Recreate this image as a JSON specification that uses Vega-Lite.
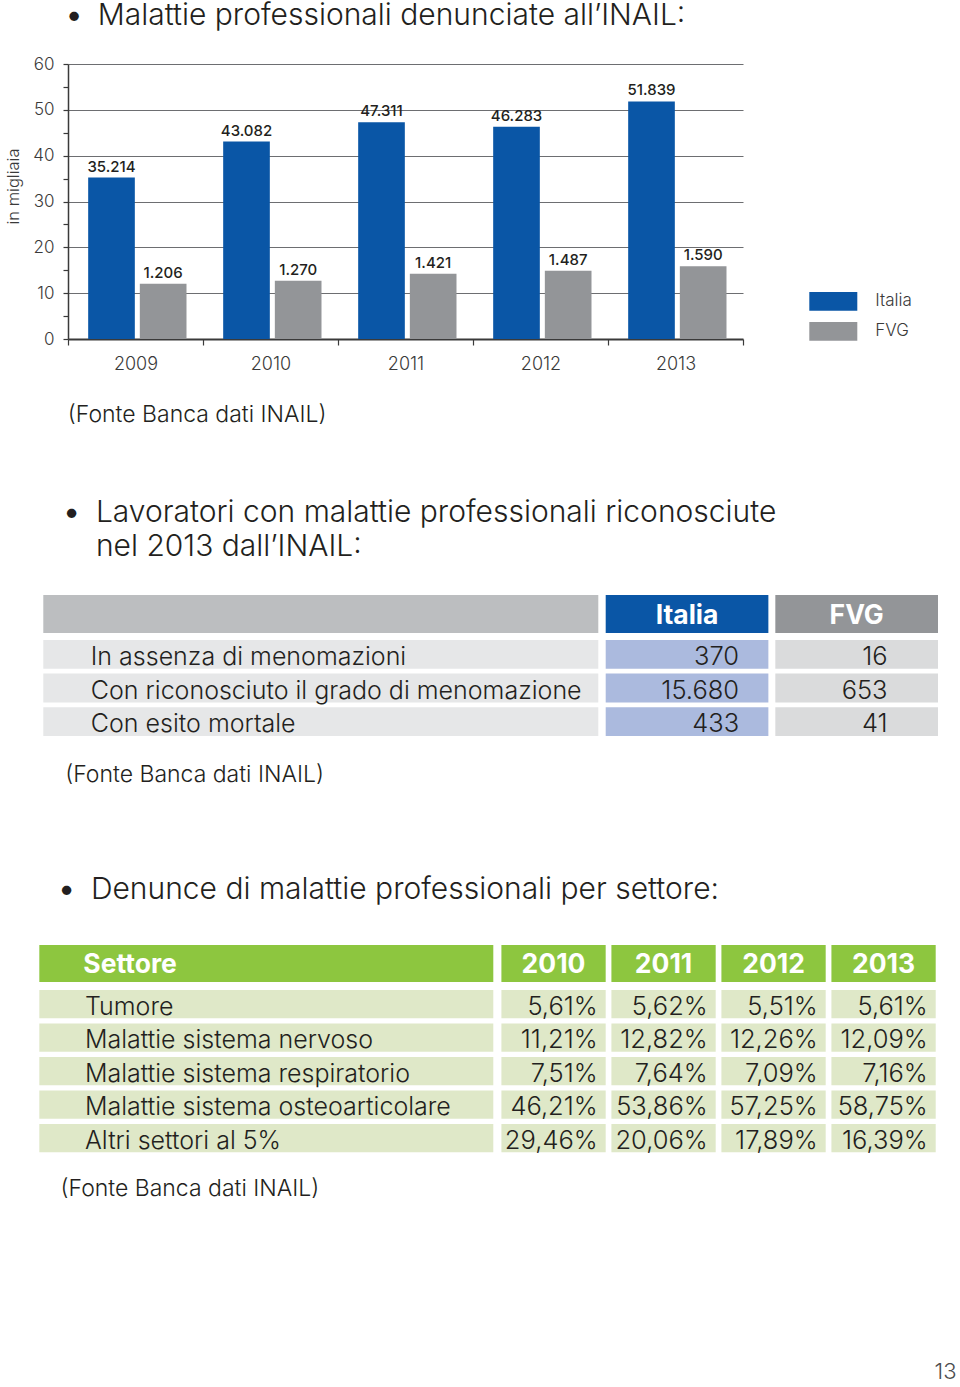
{
  "$schema": "https://vega.github.io/schema/vega-lite/v6.json",
  "padding": 0,
  "background": "#ffffff",
  "spacing": 0,
  "resolve": {"scale": {"color": "independent"}, "legend": {"color": "independent"}},
  "config": {
    "view": {"stroke": null},
    "font": "Inter",
    "text": {"color": "#231f20"}
  },
  "datasets": {
    "barre": [
      {"anno": "2009", "serie": "Italia", "altezza": 35.214, "etichetta": "35.214"},
      {"anno": "2009", "serie": "FVG", "altezza": 12.06, "etichetta": "1.206"},
      {"anno": "2010", "serie": "Italia", "altezza": 43.082, "etichetta": "43.082"},
      {"anno": "2010", "serie": "FVG", "altezza": 12.70, "etichetta": "1.270"},
      {"anno": "2011", "serie": "Italia", "altezza": 47.311, "etichetta": "47.311"},
      {"anno": "2011", "serie": "FVG", "altezza": 14.21, "etichetta": "1.421"},
      {"anno": "2012", "serie": "Italia", "altezza": 46.283, "etichetta": "46.283"},
      {"anno": "2012", "serie": "FVG", "altezza": 14.87, "etichetta": "1.487"},
      {"anno": "2013", "serie": "Italia", "altezza": 51.839, "etichetta": "51.839"},
      {"anno": "2013", "serie": "FVG", "altezza": 15.90, "etichetta": "1.590"}
    ],
    "tab1righe": [
      {"riga": "In assenza di menomazioni", "colonna": "Voce"},
      {"riga": "Con riconosciuto il grado di menomazione", "colonna": "Voce"},
      {"riga": "Con esito mortale", "colonna": "Voce"}
    ],
    "tab1": [
      {"riga": "In assenza di menomazioni", "colonna": "Italia", "valore": "370"},
      {"riga": "In assenza di menomazioni", "colonna": "FVG", "valore": "16"},
      {"riga": "Con riconosciuto il grado di menomazione", "colonna": "Italia", "valore": "15.680"},
      {"riga": "Con riconosciuto il grado di menomazione", "colonna": "FVG", "valore": "653"},
      {"riga": "Con esito mortale", "colonna": "Italia", "valore": "433"},
      {"riga": "Con esito mortale", "colonna": "FVG", "valore": "41"}
    ],
    "tab2righe": [
      {"riga": "Tumore", "colonna": "Settore"},
      {"riga": "Malattie sistema nervoso", "colonna": "Settore"},
      {"riga": "Malattie sistema respiratorio", "colonna": "Settore"},
      {"riga": "Malattie sistema osteoarticolare", "colonna": "Settore"},
      {"riga": "Altri settori al 5%", "colonna": "Settore"}
    ],
    "tab2": [
      {"riga": "Tumore", "colonna": "2010", "valore": "5,61%"},
      {"riga": "Tumore", "colonna": "2011", "valore": "5,62%"},
      {"riga": "Tumore", "colonna": "2012", "valore": "5,51%"},
      {"riga": "Tumore", "colonna": "2013", "valore": "5,61%"},
      {"riga": "Malattie sistema nervoso", "colonna": "2010", "valore": "11,21%"},
      {"riga": "Malattie sistema nervoso", "colonna": "2011", "valore": "12,82%"},
      {"riga": "Malattie sistema nervoso", "colonna": "2012", "valore": "12,26%"},
      {"riga": "Malattie sistema nervoso", "colonna": "2013", "valore": "12,09%"},
      {"riga": "Malattie sistema respiratorio", "colonna": "2010", "valore": "7,51%"},
      {"riga": "Malattie sistema respiratorio", "colonna": "2011", "valore": "7,64%"},
      {"riga": "Malattie sistema respiratorio", "colonna": "2012", "valore": "7,09%"},
      {"riga": "Malattie sistema respiratorio", "colonna": "2013", "valore": "7,16%"},
      {"riga": "Malattie sistema osteoarticolare", "colonna": "2010", "valore": "46,21%"},
      {"riga": "Malattie sistema osteoarticolare", "colonna": "2011", "valore": "53,86%"},
      {"riga": "Malattie sistema osteoarticolare", "colonna": "2012", "valore": "57,25%"},
      {"riga": "Malattie sistema osteoarticolare", "colonna": "2013", "valore": "58,75%"},
      {"riga": "Altri settori al 5%", "colonna": "2010", "valore": "29,46%"},
      {"riga": "Altri settori al 5%", "colonna": "2011", "valore": "20,06%"},
      {"riga": "Altri settori al 5%", "colonna": "2012", "valore": "17,89%"},
      {"riga": "Altri settori al 5%", "colonna": "2013", "valore": "16,39%"}
    ]
  },
  "vconcat": [
    {
      "width": 1, "height": 55,
      "data": {"values": [{"t": "Malattie professionali denunciate all’INAIL:"}]},
      "layer": [
        {"mark": {"type": "text", "text": "•", "align": "center", "baseline": "alphabetic", "dx": 73.5, "dy": -2.5, "fontSize": 30, "fontWeight": 700, "color": "#231f20"}, "encoding": {}},
        {"mark": {"type": "text", "align": "left", "baseline": "alphabetic", "dx": 97.3, "dy": -2.5, "fontSize": 30, "fontWeight": 300, "color": "#231f20"}, "encoding": {"text": {"field": "t"}}}
      ]
    },
    {
      "hconcat": [
        {"width": 68, "height": 275, "data": {"values": []}, "mark": "rect", "encoding": {}},
        {
          "width": 675, "height": 275,
          "data": {"name": "barre"},
          "encoding": {
            "x": {"field": "anno", "type": "nominal", "title": null,
              "scale": {"paddingInner": 0, "paddingOuter": 0},
              "axis": {"labelAngle": 0, "tickBand": "extent", "tickSize": 6, "tickColor": "#3a3a3a", "tickWidth": 1.2, "domainColor": "#3a3a3a", "domainWidth": 2, "labelFontSize": 18, "labelFontWeight": 300, "labelColor": "#3a3a3a", "labelPadding": 10}},
            "xOffset": {"field": "serie", "type": "nominal", "sort": ["Italia", "FVG"], "scale": {"paddingInner": 0.097, "paddingOuter": 0.355, "align": 0.55}},
            "y": {"field": "altezza", "type": "quantitative",
              "scale": {"domain": [0, 60], "nice": false},
              "axis": {
                "title": "in migliaia", "titleFontSize": 16.5, "titleFontWeight": 300, "titleColor": "#3a3a3a",
                "titleX": -54.7, "titleY": 122, "titleAngle": -90, "titleAlign": "center", "titleBaseline": "middle",
                "values": [0, 5, 10, 15, 20, 25, 30, 35, 40, 45, 50, 55, 60],
                "labelExpr": "datum.value % 10 === 0 ? datum.label : ''",
                "labelFontSize": 17, "labelFontWeight": 300, "labelColor": "#3a3a3a", "labelPadding": 9,
                "tickSize": 5, "tickColor": "#3a3a3a", "tickWidth": 1.2,
                "domainColor": "#3a3a3a", "domainWidth": 1.5,
                "grid": true, "gridColor": "#6d6e71", "gridWidth": 1,
                "gridOpacity": {"condition": {"test": "datum.value % 10 === 0 && datum.value > 0", "value": 1}, "value": 0}
              }}
          },
          "layer": [
            {"mark": {"type": "bar"},
             "encoding": {"color": {"field": "serie", "type": "nominal",
               "scale": {"domain": ["Italia", "FVG"], "range": ["#0a56a6", "#939598"]},
               "legend": {"title": null, "orient": "none", "legendX": 821.3, "legendY": 225.4, "direction": "vertical",
                 "symbolType": "M-2,-0.78H2V0.78H-2Z", "symbolSize": 576, "symbolStrokeWidth": 0, "symbolOpacity": 1,
                 "rowPadding": 8, "labelOffset": 30, "labelFontSize": 17, "labelFontWeight": 300, "labelColor": "#3a3a3a", "padding": 0}}}},
            {"mark": {"type": "text", "baseline": "middle", "dy": -11, "fontSize": 15, "fontWeight": 500, "color": "#231f20"},
             "encoding": {"text": {"field": "etichetta"}}}
          ]
        }
      ],
      "spacing": 0, "bounds": "flush"
    },
    {
      "width": 1, "height": 118,
      "data": {"values": [{"t": "(Fonte Banca dati INAIL)"}]},
      "mark": {"type": "text", "align": "left", "baseline": "alphabetic", "dx": 67.3, "dy": -9.7, "fontSize": 23, "fontWeight": 300, "color": "#231f20"},
      "encoding": {"text": {"field": "t"}}
    },
    {
      "width": 1, "height": 104,
      "data": {"values": [{"t": ["Lavoratori con malattie professionali riconosciute", "nel 2013 dall’INAIL:"]}]},
      "layer": [
        {"mark": {"type": "text", "text": "•", "align": "center", "baseline": "alphabetic", "dx": 71.2, "dy": -20.7, "fontSize": 30, "fontWeight": 700, "color": "#231f20"}, "encoding": {}},
        {"mark": {"type": "text", "align": "left", "baseline": "alphabetic", "dx": 95.4, "dy": -20.7, "fontSize": 30, "fontWeight": 300, "lineHeight": 34, "color": "#231f20"}, "encoding": {"text": {"field": "t"}}}
      ]
    },
    {
      "vconcat": [
        {
          "hconcat": [
            {"width": 598.3, "height": 38, "data": {"values": [{"colonna": "Voce"}]},
             "mark": {"type": "rect", "color": "#bcbec0"},
             "encoding": {"x": {"field": "colonna", "type": "nominal", "axis": null, "scale": {"paddingInner": 0, "paddingOuter": 0.039, "align": 1}}}},
            {"width": 332.3, "height": 38, "data": {"values": [{"colonna": "Italia"}, {"colonna": "FVG"}]},
             "encoding": {"x": {"field": "colonna", "type": "nominal", "sort": null, "axis": null, "scale": {"paddingInner": 0.041, "paddingOuter": 0}}},
             "layer": [
               {"mark": {"type": "rect"}, "encoding": {"color": {"field": "colonna", "type": "nominal", "scale": {"domain": ["Italia", "FVG"], "range": ["#0a56a6", "#939598"]}, "legend": null}}},
               {"mark": {"type": "text", "color": "#ffffff", "fontSize": 26.5, "fontWeight": 700, "dy": 1.5}, "encoding": {"text": {"field": "colonna"}}}
             ]}
          ],
          "spacing": 6.7,
          "resolve": {"scale": {"color": "independent"}}
        },
        {
          "hconcat": [
            {"width": 598.3, "height": 96, "data": {"name": "tab1righe"},
             "encoding": {
               "x": {"field": "colonna", "type": "nominal", "axis": null, "scale": {"paddingInner": 0, "paddingOuter": 0.039, "align": 1}},
               "y": {"field": "riga", "type": "nominal", "sort": null, "axis": null, "scale": {"paddingInner": 0.144, "paddingOuter": 0}}},
             "layer": [
               {"mark": {"type": "rect", "color": "#e6e7e8"}},
               {"mark": {"type": "text", "align": "left", "dx": 47.5, "dy": 2.5, "fontSize": 25, "fontWeight": 300, "color": "#231f20"},
                "encoding": {"x": {"field": "colonna", "type": "nominal", "bandPosition": 0, "axis": null, "scale": {"paddingInner": 0, "paddingOuter": 0.039, "align": 1}}, "text": {"field": "riga"}}}
             ]},
            {"width": 332.3, "height": 96, "data": {"name": "tab1"},
             "encoding": {
               "x": {"field": "colonna", "type": "nominal", "axis": null, "scale": {"domain": ["Italia", "FVG"], "paddingInner": 0.041, "paddingOuter": 0}},
               "y": {"field": "riga", "type": "nominal", "sort": null, "axis": null, "scale": {"paddingInner": 0.144, "paddingOuter": 0}}},
             "layer": [
               {"mark": {"type": "rect"}, "encoding": {"color": {"field": "colonna", "type": "nominal", "scale": {"domain": ["Italia", "FVG"], "range": ["#abbade", "#dadbdc"]}, "legend": null}}},
               {"transform": [{"filter": "datum.colonna === 'Italia'"}],
                "mark": {"type": "text", "align": "right", "dy": 2.5, "fontSize": 25.5, "fontWeight": 300, "color": "#231f20"},
                "encoding": {"x": {"field": "colonna", "type": "nominal", "bandPosition": 0.82, "axis": null, "scale": {"domain": ["Italia", "FVG"], "paddingInner": 0.041, "paddingOuter": 0}}, "text": {"field": "valore"}}},
               {"transform": [{"filter": "datum.colonna === 'FVG'"}],
                "mark": {"type": "text", "align": "right", "dy": 2.5, "fontSize": 25.5, "fontWeight": 300, "color": "#231f20"},
                "encoding": {"x": {"field": "colonna", "type": "nominal", "bandPosition": 0.69, "axis": null, "scale": {"domain": ["Italia", "FVG"], "paddingInner": 0.041, "paddingOuter": 0}}, "text": {"field": "valore"}}}
             ]}
          ],
          "spacing": 6.7,
          "resolve": {"scale": {"color": "independent"}}
        }
      ],
      "spacing": 7,
      "resolve": {"scale": {"color": "independent"}}
    },
    {
      "width": 1, "height": 71.4,
      "data": {"values": [{"t": "(Fonte Banca dati INAIL)"}]},
      "mark": {"type": "text", "align": "left", "baseline": "alphabetic", "dx": 64.7, "dy": 8.5, "fontSize": 23, "fontWeight": 300, "color": "#231f20"},
      "encoding": {"text": {"field": "t"}}
    },
    {
      "width": 1, "height": 135,
      "data": {"values": [{"t": "Denunce di malattie professionali per settore:"}]},
      "layer": [
        {"mark": {"type": "text", "text": "•", "align": "center", "baseline": "alphabetic", "dx": 66.2, "dy": 21.5, "fontSize": 30, "fontWeight": 700, "color": "#231f20"}, "encoding": {}},
        {"mark": {"type": "text", "align": "left", "baseline": "alphabetic", "dx": 90.4, "dy": 21.5, "fontSize": 30, "fontWeight": 300, "color": "#231f20"}, "encoding": {"text": {"field": "t"}}}
      ]
    },
    {
      "vconcat": [
        {
          "hconcat": [
            {"width": 493.3, "height": 37, "data": {"values": [{"colonna": "Settore"}]},
             "encoding": {"x": {"field": "colonna", "type": "nominal", "axis": null, "scale": {"paddingInner": 0, "paddingOuter": 0.0433, "align": 1}}},
             "layer": [
               {"mark": {"type": "rect", "color": "#8dc63f"}},
               {"mark": {"type": "text", "align": "left", "dx": 44, "dy": 1.5, "color": "#ffffff", "fontSize": 26.5, "fontWeight": 700},
                "encoding": {"x": {"field": "colonna", "type": "nominal", "bandPosition": 0, "axis": null, "scale": {"paddingInner": 0, "paddingOuter": 0.0433, "align": 1}}, "text": {"field": "colonna"}}}
             ]},
            {"width": 434.3, "height": 37, "data": {"values": [{"colonna": "2010"}, {"colonna": "2011"}, {"colonna": "2012"}, {"colonna": "2013"}]},
             "encoding": {"x": {"field": "colonna", "type": "nominal", "sort": null, "axis": null, "scale": {"paddingInner": 0.052, "paddingOuter": 0}}},
             "layer": [
               {"mark": {"type": "rect", "color": "#8dc63f"}},
               {"mark": {"type": "text", "color": "#ffffff", "fontSize": 26.5, "fontWeight": 700, "dy": 1.5}, "encoding": {"text": {"field": "colonna"}}}
             ]}
          ],
          "spacing": 7.4
        },
        {
          "hconcat": [
            {"width": 493.3, "height": 162.3, "data": {"name": "tab2righe"},
             "encoding": {
               "x": {"field": "colonna", "type": "nominal", "axis": null, "scale": {"paddingInner": 0, "paddingOuter": 0.0433, "align": 1}},
               "y": {"field": "riga", "type": "nominal", "sort": null, "axis": null, "scale": {"paddingInner": 0.155, "paddingOuter": 0}}},
             "layer": [
               {"mark": {"type": "rect", "color": "#dfe8c8"}},
               {"mark": {"type": "text", "align": "left", "dx": 45.7, "dy": 2.5, "fontSize": 25, "fontWeight": 300, "color": "#231f20"},
                "encoding": {"x": {"field": "colonna", "type": "nominal", "bandPosition": 0, "axis": null, "scale": {"paddingInner": 0, "paddingOuter": 0.0433, "align": 1}}, "text": {"field": "riga"}}}
             ]},
            {"width": 434.3, "height": 162.3, "data": {"name": "tab2"},
             "encoding": {
               "x": {"field": "colonna", "type": "nominal", "sort": null, "axis": null, "scale": {"paddingInner": 0.052, "paddingOuter": 0}},
               "y": {"field": "riga", "type": "nominal", "sort": null, "axis": null, "scale": {"paddingInner": 0.155, "paddingOuter": 0}}},
             "layer": [
               {"mark": {"type": "rect", "color": "#dfe8c8"}},
               {"mark": {"type": "text", "align": "right", "dx": -8, "dy": 2.5, "fontSize": 25.5, "fontWeight": 300, "color": "#231f20"},
                "encoding": {"x": {"field": "colonna", "type": "nominal", "sort": null, "bandPosition": 1, "axis": null, "scale": {"paddingInner": 0.052, "paddingOuter": 0}}, "text": {"field": "valore"}}}
             ]}
          ],
          "spacing": 7.4
        }
      ],
      "spacing": 8
    },
    {
      "width": 1, "height": 70.15,
      "data": {"values": [{"t": "(Fonte Banca dati INAIL)"}]},
      "mark": {"type": "text", "align": "left", "baseline": "alphabetic", "dx": 60, "dy": 5.8, "fontSize": 23, "fontWeight": 300, "color": "#231f20"},
      "encoding": {"text": {"field": "t"}}
    },
    {
      "width": 1, "height": 155.7,
      "data": {"values": [{"t": "13"}]},
      "mark": {"type": "text", "align": "right", "baseline": "alphabetic", "dx": 956, "dy": 75.6, "fontSize": 22, "fontWeight": 300, "color": "#4d4d4f"},
      "encoding": {"text": {"field": "t"}}
    }
  ]
}
